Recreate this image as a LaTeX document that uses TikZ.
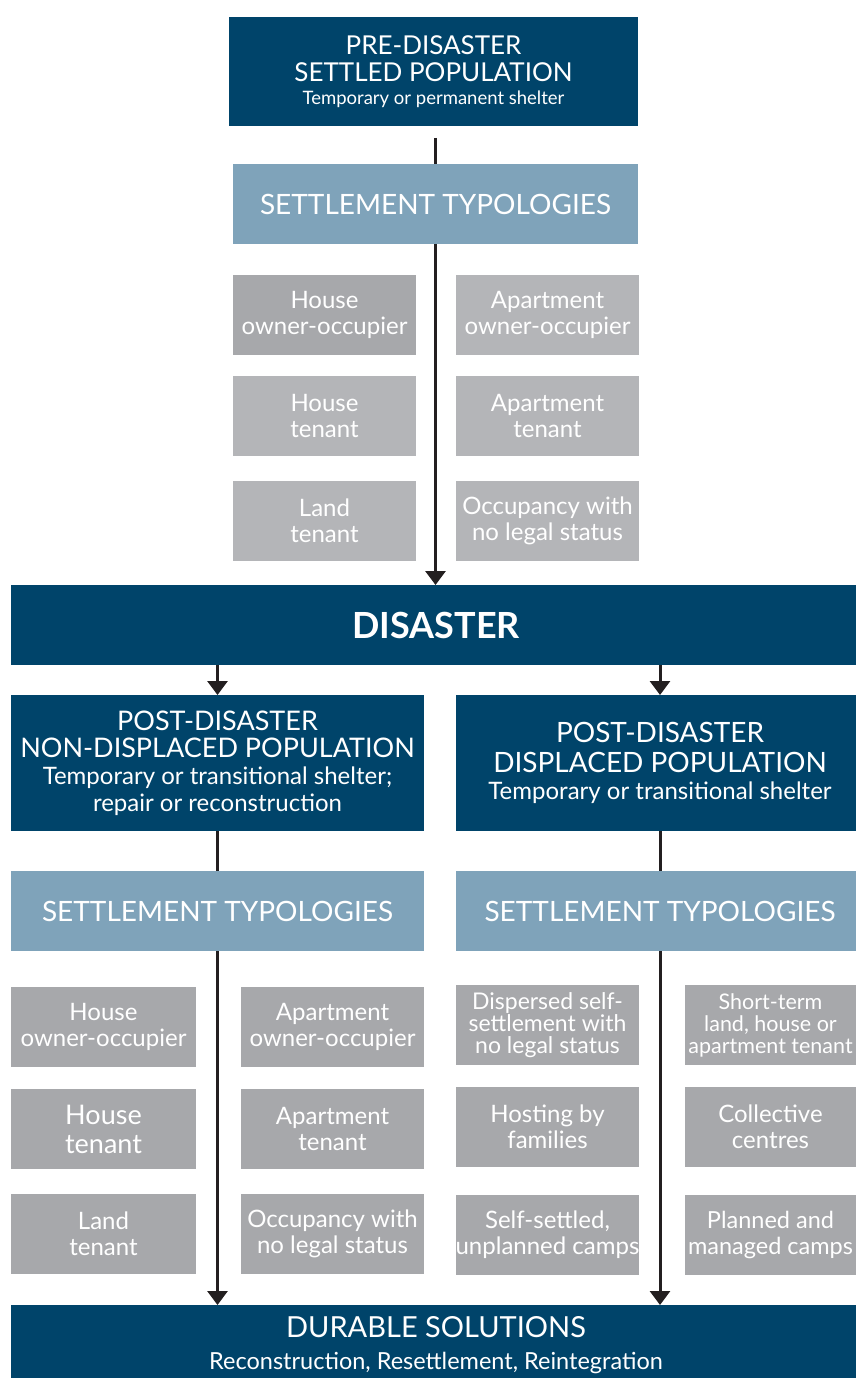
\documentclass[tikz,border=0pt]{standalone}
\usepackage{fontspec}
\setmainfont{Lato}
\usetikzlibrary{arrows.meta,calc}
\definecolor{navy}{HTML}{00446A}
\definecolor{steel}{HTML}{7FA3BA}
\definecolor{greyA}{HTML}{A7A8AB}
\definecolor{greyB}{HTML}{B4B5B8}
\definecolor{ink}{HTML}{231F20}
\newcommand\fs[2]{\fontsize{#1}{#2}\selectfont}
\begin{document}
\begin{tikzpicture}[x=1pt,y=-1pt,
  box/.style={inner sep=0pt, outer sep=0pt, text=white, align=center},
  navybox/.style={box, fill=navy},
  steelbox/.style={box, fill=steel, minimum height=80pt, font=\fs{28}{30}},
  greybox/.style={box, fill=greyA, minimum width=183pt, minimum height=80pt, font=\fs{24}{26}},
  lgreybox/.style={greybox, fill=greyB},
  smallgrey/.style={greybox, font=\fs{23}{22}},
  edgegrey/.style={greybox, minimum width=171pt},
  conn/.style={draw=ink, line width=3pt},
  arr/.style={conn, -{Triangle[width=20pt,length=14pt]}}]
\useasboundingbox (0,0) rectangle (856,1378);
\clip (0,0) rectangle (856,1378);

% top
\node[navybox, minimum width=409pt, minimum height=109pt, font=\fs{26}{27}] (pre) at (433.5,71.5)
  {PRE-DISASTER\\SETTLED POPULATION\\[-4pt]\fs{18.5}{23}Temporary or permanent shelter};
\node[steelbox, minimum width=405pt] (st1) at (435.5,204) {SETTLEMENT TYPOLOGIES};

\node[greybox] (t1) at (324.5,315) {House\\owner-occupier};
\node[lgreybox] (t2) at (324.5,416) {House\\tenant};
\node[lgreybox] (t3) at (324.5,521) {Land\\tenant};
\node[lgreybox] (t4) at (547.5,315) {Apartment\\owner-occupier};
\node[lgreybox] (t5) at (547.5,416) {Apartment\\tenant};
\node[lgreybox] (t6) at (547.5,521) {Occupancy with\\no legal status};

% disaster
\node[navybox, minimum width=850pt, minimum height=80pt, font=\fs{36}{38}\bfseries] (dis) at (436,625) {DISASTER};

% post-disaster
\node[navybox, minimum width=413pt, minimum height=136pt, font=\fs{27}{27}] (postL) at (217.5,763)
  {POST-DISASTER\\NON-DISPLACED POPULATION\\\fs{24}{27}Temporary or transitional shelter;\\\fs{24}{27}repair or reconstruction};
\node[navybox, minimum width=408pt, minimum height=136pt, font=\fs{28}{30}] (postR) at (660,763)
  {POST-DISASTER\\DISPLACED POPULATION\\[-3pt]\fs{24}{27}Temporary or transitional shelter};

\node[steelbox, minimum width=413pt] (stL) at (217.5,911) {SETTLEMENT TYPOLOGIES};
\node[steelbox, minimum width=408pt] (stR) at (660,911) {SETTLEMENT TYPOLOGIES};

% lower grey boxes
\node[greybox, minimum width=185pt] (a1) at (103.5,1027) {House\\owner-occupier};
\node[greybox, minimum width=185pt, font=\fs{27}{29}] (a2) at (103.5,1129) {House\\tenant};
\node[greybox, minimum width=185pt] (a3) at (103.5,1233.5) {Land\\tenant};
\node[greybox] (b1) at (332.5,1027) {Apartment\\owner-occupier};
\node[greybox] (b2) at (332.5,1129) {Apartment\\tenant};
\node[greybox] (b3) at (332.5,1233.5) {Occupancy with\\no legal status};
\node[smallgrey] (c1) at (547.5,1025) {Dispersed self-\\settlement with\\no legal status};
\node[greybox] (c2) at (547.5,1127) {Hosting by\\families};
\node[greybox] (c3) at (547.5,1235) {Self-settled,\\unplanned camps};
\node[edgegrey, font=\fs{21.5}{22}] (d1) at (770.5,1025) {Short-term\\land, house or\\apartment tenant};
\node[edgegrey] (d2) at (770.5,1127) {Collective\\centres};
\node[edgegrey, font=\fs{23.5}{26}] (d3) at (770.5,1235) {Planned and\\managed camps};

% durable
\node[navybox, minimum width=850pt, minimum height=80pt, font=\fs{29}{32}] (dur) at (436,1345)
  {DURABLE SOLUTIONS\\\fs{23.5}{32}Reconstruction, Resettlement, Reintegration};

% connectors
\draw[conn] ([yshift=-12pt]st1.north |- pre.south) -- (st1.north);
\draw[arr] (st1.south) -- (st1.south |- dis.north);
\draw[arr] (postL.north |- dis.south) -- (postL.north);
\draw[arr] (postR.north |- dis.south) -- (postR.north);
\draw[conn] (postL.south) -- (stL.north);
\draw[conn] (postR.south) -- (stR.north);
\draw[arr] (stL.south) -- (stL.south |- dur.north);
\draw[arr] (stR.south) -- (stR.south |- dur.north);
\end{tikzpicture}
\end{document}
